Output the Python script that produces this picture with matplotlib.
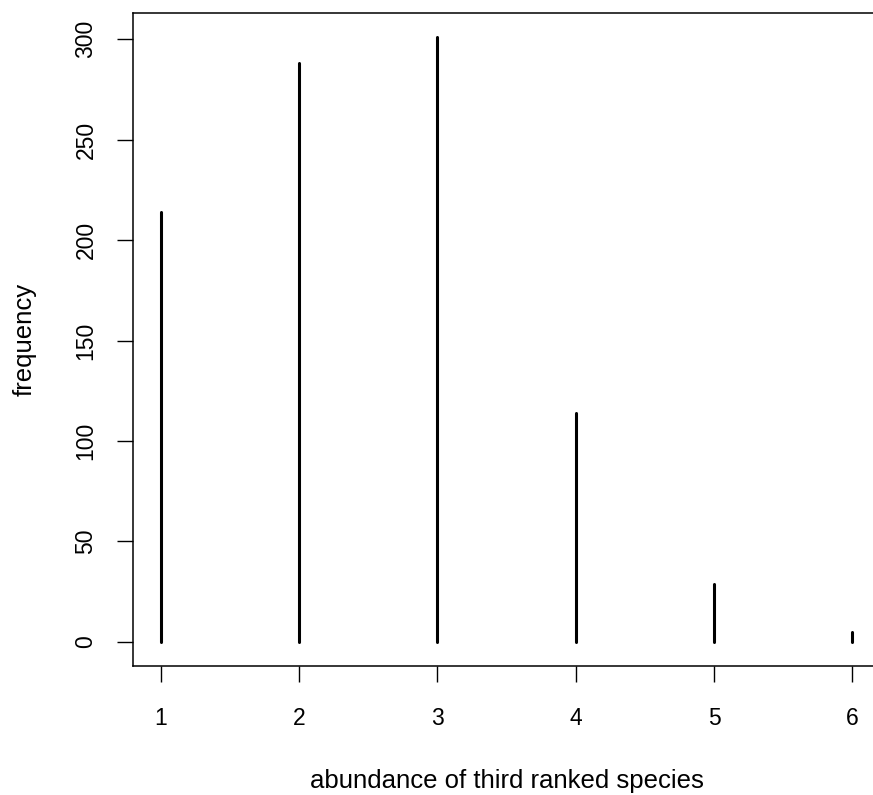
import matplotlib
matplotlib.use("Agg")
import matplotlib.pyplot as plt

abundance = [1, 2, 3, 4, 5, 6]
frequency = [214, 288, 301, 114, 29, 5]
xticks = [1, 2, 3, 4, 5, 6]
yticks = [0, 50, 100, 150, 200, 250, 300]

plt.rcParams['font.family'] = ['Liberation Sans', 'DejaVu Sans']
W, H = 873, 795
fig = plt.figure(figsize=(W / 100, H / 100), dpi=100)
left, right, top, bottom = 133, 880, 13, 666
ax = fig.add_axes([left / W, 1 - bottom / H, (right - left) / W, (bottom - top) / H])

ax.vlines(abundance, 0, frequency, colors='black', linewidth=2.2, capstyle='round')

xr = max(abundance) - min(abundance)
ax.set_xlim(min(abundance) - 0.04 * xr, max(abundance) + 0.04 * xr)
ymax = max(frequency)
ax.set_ylim(-0.04 * ymax, ymax * 1.04)

ax.set_xticks(xticks)
ax.set_xticklabels([str(t) for t in xticks])
ax.set_yticks(yticks)
ax.set_yticklabels([str(t) for t in yticks], rotation=90, va='center')

for s in ax.spines.values():
    s.set_linewidth(1.1)
ax.tick_params(axis='both', length=11.5, width=1.0, labelsize=16.5, direction='out')
ax.tick_params(axis='x', pad=18)
ax.tick_params(axis='y', pad=14)

ax.set_xlabel('abundance of third ranked species', fontsize=18.5, labelpad=28)
ax.set_ylabel('frequency', fontsize=18.5, labelpad=27)

fig.savefig('out.png', dpi=100)
